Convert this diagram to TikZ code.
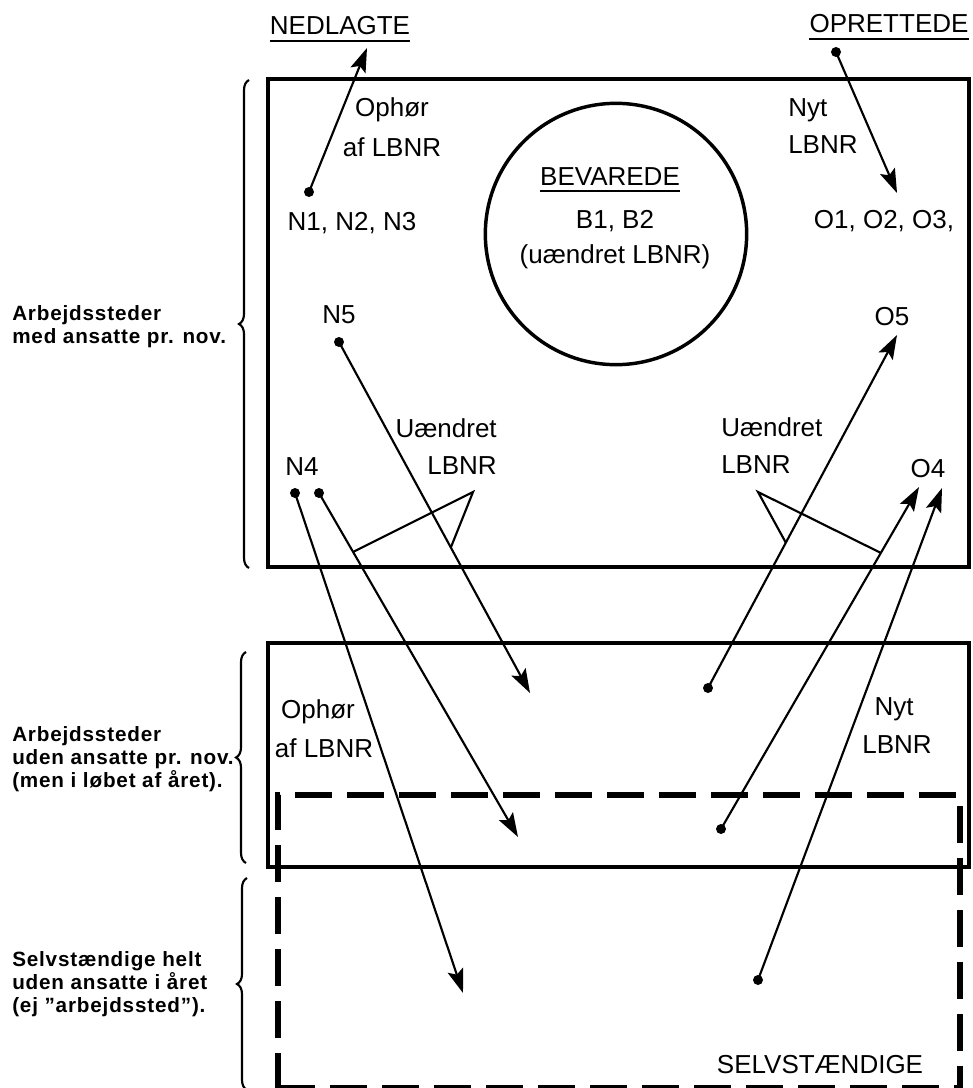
\documentclass[tikz,border=0pt]{standalone}
\usepackage{fontspec}
\setmainfont{Liberation Sans}
\newfontfamily\sidefont[LetterSpace=4]{Liberation Sans}
\usetikzlibrary{arrows.meta,decorations.pathreplacing}
\begin{document}
\begin{tikzpicture}[x=0.75pt,y=-0.75pt,
  lbl/.style={font=\fontsize{19.5}{28.5}\selectfont, inner sep=0pt, align=center},
  side/.style={font=\sidefont\bfseries\fontsize{15.5}{17.25}\selectfont, inner sep=0pt, align=left, anchor=base west},
  conn/.style={line width=1.6pt, -{Stealth[length=18pt,width=12pt,inset=3.5pt]}},
  dotc/.style={circle, fill, inner sep=0pt, minimum size=7.5pt},
  box/.style={line width=3.6pt},
  dbox/.style={line width=4.8pt, dash pattern=on 28pt off 11pt},
  brc/.style={decorate, decoration={brace, amplitude=7.5pt, raise=0pt}, line width=1.6pt},
  uline/.style={line width=1pt},
  callout/.style={line width=1.6pt, line join=miter}]
\useasboundingbox (0,0) rectangle (973,1088);

% frames
\draw[box] (268,79) rectangle (969,567);
\draw[box] (268,643) rectangle (969,867);
\draw[dbox] (278,1090) -- (278,795) -- (960,795) -- (960,1090);
\draw[dbox] (278,1088) -- (960,1088);
\node[draw, circle, line width=2.6pt, minimum size=196pt, inner sep=0pt] (bev) at (616,234) {};

% headings
\node[lbl, anchor=base] (ned) at (340,35) {NEDLAGTE};
\draw[uline] ([yshift=-4.5pt]ned.base west) -- ([yshift=-4.5pt]ned.base east);
\node[lbl, anchor=base] (opr) at (889,33) {OPRETTEDE};
\draw[uline] ([yshift=-4.5pt]opr.base west) -- ([yshift=-4.5pt]opr.base east);

% texts in the top box
\node[lbl, anchor=base] (oph1) at (392,117) {Ophør};
\node[lbl, anchor=base] (oph1b) at (392,156) {af LBNR};
\node[lbl, anchor=base west] (nyt1) at (788,116) {Nyt};
\node[lbl, anchor=base west] (nyt1b) at (788,153) {LBNR};
\node[lbl, anchor=base] (n123) at (352,230) {N1, N2, N3};
\node[lbl, anchor=base] (o123) at (884,228) {O1, O2, O3,};
\node[lbl, anchor=base] (bevt) at (610,185) {BEVAREDE};
\draw[uline] ([yshift=-4.5pt]bevt.base west) -- ([yshift=-4.5pt]bevt.base east);
\node[lbl, anchor=base] (b12) at (615,228) {B1, B2};
\node[lbl, anchor=base] (ulb) at (615,263) {(uændret LBNR)};
\node[lbl, anchor=base] (n5) at (339,323) {N5};
\node[lbl, anchor=base] (o5) at (892,325) {O5};
\node[lbl, anchor=base east] (ua1) at (497,437) {Uændret};
\node[lbl, anchor=base east] (ua1b) at (497,474) {LBNR};
\node[lbl, anchor=base west] (ua2) at (721,436) {Uændret};
\node[lbl, anchor=base west] (ua2b) at (721,473) {LBNR};
\node[lbl, anchor=base] (n4) at (302,475) {N4};
\node[lbl, anchor=base] (o4) at (928,477) {O4};

% texts in the lower boxes
\node[lbl, anchor=base] (oph2) at (318,718) {Ophør};
\node[lbl, anchor=base] (oph2b) at (324,757) {af LBNR};
\node[lbl, anchor=base] (nyt2) at (894,715) {Nyt};
\node[lbl, anchor=base] (nyt2b) at (897,753) {LBNR};
\node[lbl, anchor=base] (selv) at (820,1073) {SELVSTÆNDIGE};

% side labels (anchor at the baseline of the last line)
\node[side] (s1) at (12,343) {Arbejdssteder\\med ansatte pr. nov.};
\node[side] (s2) at (12,787) {Arbejdssteder\\uden ansatte pr. nov.\\(men i løbet af året).};
\node[side] (s3) at (12,1012) {Selvstændige helt\\uden ansatte i året\\(ej ”arbejdssted”).};
\draw[brc] (249,568) -- (249,80);
\draw[brc] (246,863) -- (246,652);
\draw[brc] (247,1090) -- (247,878);

% dots
\node[dotc] (d1) at (309,192) {};
\node[dotc] (d2) at (836,52) {};
\node[dotc] (d3) at (339,342) {};
\node[dotc] (d4) at (295,493) {};
\node[dotc] (d5) at (319,493) {};
\node[dotc] (d6) at (708,688) {};
\node[dotc] (d7) at (721,829) {};
\node[dotc] (d8) at (758,980) {};

% arrow ends
\coordinate (t1) at (367,48);
\coordinate (t2) at (897,193);
\coordinate (t3) at (530,693);
\coordinate (t4) at (463,993);
\coordinate (t5) at (518,837);
\coordinate (t6) at (897,335);
\coordinate (t7) at (919,487);
\coordinate (t8) at (942,488);

\draw[conn] (d1.center) -- (t1);
\draw[conn] (d2.center) -- (t2);
\draw[conn] (d3.center) -- (t3);
\draw[conn] (d4.center) -- (t4);
\draw[conn] (d5.center) -- (t5);
\draw[conn] (d6.center) -- (t6);
\draw[conn] (d7.center) -- (t7);
\draw[conn] (d8.center) -- (t8);

% callouts "Uændret LBNR"
\coordinate (cl1) at (353,552);
\coordinate (cl0) at (473,492);
\coordinate (cl2) at (451,547);
\draw[callout] (cl1) -- (cl0) -- (cl2);
\coordinate (cr1) at (786,543);
\coordinate (cr0) at (758,492);
\coordinate (cr2) at (881,553);
\draw[callout] (cr1) -- (cr0) -- (cr2);
\end{tikzpicture}
\end{document}
